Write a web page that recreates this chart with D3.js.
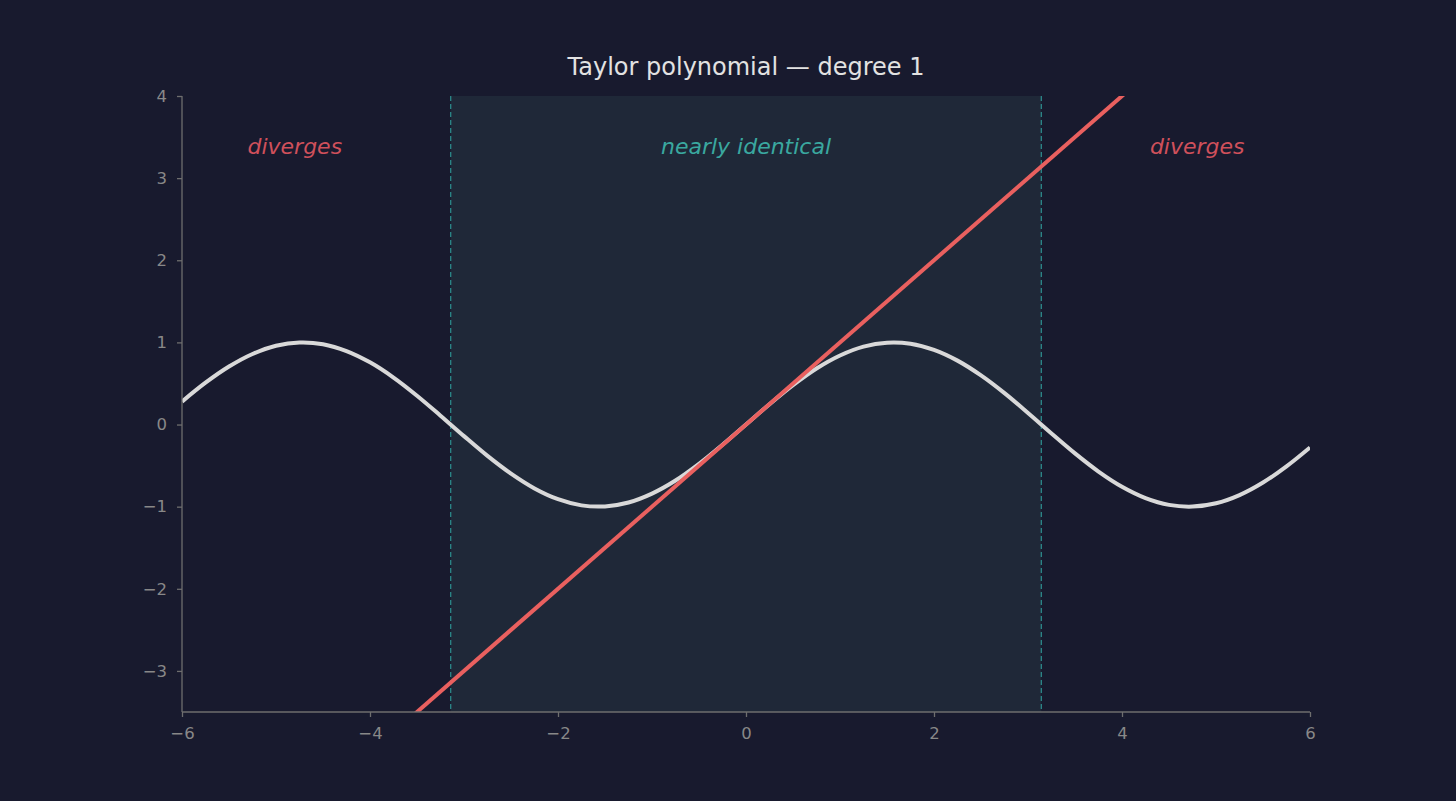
<!DOCTYPE html>
<html><head><meta charset="utf-8">
<script src="https://cdn.jsdelivr.net/npm/d3@7/dist/d3.min.js"></script>
<style>
html,body{margin:0;padding:0;background:#181a2e;}
svg{display:block;}
</style></head>
<body>
<script>
// Data
const sineX = [-6,-5.75,-5.5,-5.25,-5,-4.75,-4.5,-4.25,-4,-3.75,-3.5,-3.25,-3,-2.75,-2.5,-2.25,-2,-1.75,-1.5,-1.25,-1,-0.75,-0.5,-0.25,0,0.25,0.5,0.75,1,1.25,1.5,1.75,2,2.25,2.5,2.75,3,3.25,3.5,3.75,4,4.25,4.5,4.75,5,5.25,5.5,5.75,6];
const sineY = [0.279,0.509,0.706,0.859,0.959,0.999,0.978,0.895,0.757,0.572,0.351,0.108,-0.141,-0.382,-0.598,-0.778,-0.909,-0.984,-0.997,-0.949,-0.841,-0.682,-0.479,-0.247,0,0.247,0.479,0.682,0.841,0.949,0.997,0.984,0.909,0.778,0.598,0.382,0.141,-0.108,-0.351,-0.572,-0.757,-0.895,-0.978,-0.999,-0.959,-0.859,-0.706,-0.509,-0.279];
const taylorX = [-6, 6];
const taylorY = [-6, 6];
const regionBounds = [-3.1416, 3.1416];
const xTicks = [-6,-4,-2,0,2,4,6];
const yTicks = [-3,-2,-1,0,1,2,3,4];
const annotations = [
  {x:-4.8, y:3.37, text:"diverges", kind:"bad"},
  {x:0, y:3.37, text:"nearly identical", kind:"good"},
  {x:4.8, y:3.37, text:"diverges", kind:"bad"}
];
const titleText = "Taylor polynomial — degree 1";

const W = 1456, H = 801;
const m = {left:182, right:1310, top:96, bottom:712};
const svg = d3.select("body").append("svg").attr("width",W).attr("height",H);
svg.append("rect").attr("width",W).attr("height",H).attr("fill","#181a2e");

const x = d3.scaleLinear().domain([-6,6]).range([m.left,m.right]);
const y = d3.scaleLinear().domain([-3.5,4]).range([m.bottom,m.top]);

svg.append("defs").append("clipPath").attr("id","clip")
  .append("rect").attr("x",m.left).attr("y",m.top).attr("width",m.right-m.left).attr("height",m.bottom-m.top);

// shaded region
svg.append("rect")
  .attr("x",x(regionBounds[0])).attr("y",m.top)
  .attr("width",x(regionBounds[1])-x(regionBounds[0])).attr("height",m.bottom-m.top)
  .attr("fill","#1f2838");
regionBounds.forEach(b=>{
  svg.append("line").attr("x1",x(b)).attr("x2",x(b)).attr("y1",m.top).attr("y2",m.bottom)
    .attr("stroke","#2e9494").attr("stroke-width",1.3).attr("stroke-dasharray","5,3").attr("opacity",0.9);
});

const g = svg.append("g").attr("clip-path","url(#clip)");
const sineData = sineX.map((v,i)=>[v,sineY[i]]);
const tayData = taylorX.map((v,i)=>[v,taylorY[i]]);
g.append("path").datum(sineData)
  .attr("d",d3.line().x(d=>x(d[0])).y(d=>y(d[1])).curve(d3.curveCatmullRom))
  .attr("fill","none").attr("stroke","#d9d9d9").attr("stroke-width",4);
g.append("path").datum(tayData)
  .attr("d",d3.line().x(d=>x(d[0])).y(d=>y(d[1])))
  .attr("fill","none").attr("stroke","#e9605f").attr("stroke-width",4);

// axes
const axisColor = "#6e6e6e", labelColor = "#888888";
const xa = svg.append("g").attr("transform",`translate(0,${m.bottom})`)
  .call(d3.axisBottom(x).tickValues(xTicks).tickSize(5).tickPadding(10).tickFormat(d=>d<0?"−"+Math.abs(d):d));
const ya = svg.append("g").attr("transform",`translate(${m.left},0)`)
  .call(d3.axisLeft(y).tickValues(yTicks).tickSize(5).tickPadding(10).tickFormat(d=>d<0?"−"+Math.abs(d):d));
[xa,ya].forEach(a=>{
  a.selectAll("path").attr("stroke",axisColor).attr("stroke-width",1.3);
  a.selectAll("line").attr("stroke",axisColor).attr("stroke-width",1.3);
  a.selectAll("text").attr("fill",labelColor).attr("font-family","DejaVu Sans").attr("font-size",16.5);
});
xa.select(".domain").attr("d",`M${m.left},0H${m.right}`);
ya.select(".domain").attr("d",`M0,${m.bottom}V${m.top}`);

// annotations
svg.selectAll("text.ann").data(annotations).enter().append("text")
  .attr("class","ann")
  .attr("x",d=>x(d.x)).attr("y",d=>y(d.y))
  .attr("text-anchor","middle").attr("dominant-baseline","middle")
  .attr("font-family","DejaVu Sans").attr("font-style","italic").attr("font-size",22)
  .attr("fill",d=>d.kind==="bad"?"#cf505b":"#3aa8a0")
  .text(d=>d.text);

svg.append("text").attr("x",(m.left+m.right)/2).attr("y",68)
  .attr("text-anchor","middle").attr("dominant-baseline","middle")
  .attr("font-family","DejaVu Sans").attr("font-size",24).attr("fill","#e2e2e2")
  .text(titleText);
</script>
</body></html>
